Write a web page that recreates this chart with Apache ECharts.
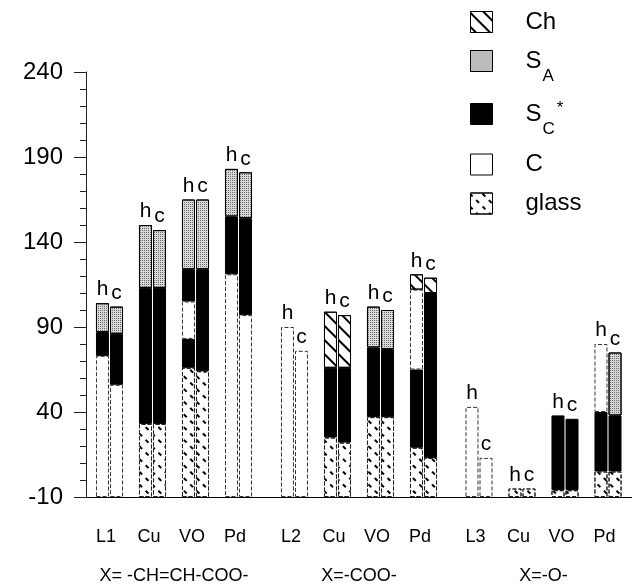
<!DOCTYPE html>
<html><head><meta charset="utf-8">
<script src="https://cdn.jsdelivr.net/npm/echarts@6/dist/echarts.min.js"></script>
<style>html,body{margin:0;padding:0;background:#fff}#c{width:632px;height:588px}</style>
</head><body><div id="c"></div>
<script>
// ---- data ----
const yTicks = [-10, 40, 90, 140, 190, 240];
const groupNames = ['X= -CH=CH-COO-', 'X=-COO-', 'X=-O-'];
const compounds1 = ['L1', 'Cu', 'VO', 'Pd'];
const compounds2 = ['L2', 'Cu', 'VO', 'Pd'];
const compounds3 = ['L3', 'Cu', 'VO', 'Pd'];
const phases = ['Ch', 'SA', 'SC*', 'C', 'glass'];
// each bar: phases from bottom with upper temperature of each
const heat1 = [
  [['C', 73], ['SC*', 87], ['SA', 104]],
  [['glass', 33], ['SC*', 113], ['SA', 150]],
  [['glass', 66], ['SC*', 83], ['C', 105], ['SC*', 124], ['SA', 165]],
  [['C', 121], ['SC*', 155], ['SA', 183]]
];
const cool1 = [
  [['C', 56], ['SC*', 86], ['SA', 102]],
  [['glass', 33], ['SC*', 113], ['SA', 147]],
  [['glass', 64], ['SC*', 124], ['SA', 165]],
  [['C', 97], ['SC*', 154], ['SA', 181]]
];
const heat2 = [
  [['C', 90]],
  [['glass', 25], ['SC*', 66], ['Ch', 99]],
  [['glass', 37], ['SC*', 78], ['SA', 102]],
  [['glass', 19], ['SC*', 65], ['C', 112], ['Ch', 121]]
];
const cool2 = [
  [['C', 76]],
  [['glass', 22], ['SC*', 66], ['Ch', 97]],
  [['glass', 37], ['SC*', 77], ['SA', 100]],
  [['glass', 13], ['SC*', 110], ['Ch', 119]]
];
const heat3 = [
  [['C', 43]],
  [['glass', -5]],
  [['glass', -6], ['SC*', 38]],
  [['glass', 5], ['SC*', 40], ['C', 80]]
];
const cool3 = [
  [['C', 13]],
  [['glass', -5]],
  [['glass', -6], ['SC*', 36]],
  [['glass', 5], ['SC*', 38], ['SA', 75]]
];

// ---- styles ----
const FONT = 'Liberation Sans, Arial, Helvetica, sans-serif';
const levels = ['glass', 'C', 'SC*', 'C', 'SC*', 'SA', 'Ch'];
const styles = {
  'glass': {color: '#ffffff', borderColor: '#222', borderWidth: 1, borderType: 'dashed',
    decal: {symbol: 'rect', symbolSize: 1, color: '#000', dashArrayX: [[4, 5]], dashArrayY: [1.3, 7], rotation: Math.PI / 4}},
  'C': {color: '#ffffff', borderColor: '#333', borderWidth: 1, borderType: 'dashed'},
  'SC*': {color: '#000000', borderColor: '#000', borderWidth: 1},
  'SA': {color: '#d8d8d8', borderColor: '#000', borderWidth: 1,
    decal: {symbol: 'rect', symbolSize: 1, color: '#6a6a6a', dashArrayX: [1, 1], dashArrayY: [1, 1]}},
  'Ch': {color: '#ffffff', borderColor: '#000', borderWidth: 1,
    decal: {symbol: 'rect', symbolSize: 1, color: '#000', dashArrayX: [1, 0], dashArrayY: [1.5, 8], rotation: Math.PI / 4}}
};

const groups = [
  {cats: compounds1, heat: heat1, cool: cool1, name: groupNames[0], left: 88},
  {cats: compounds2, heat: heat2, cool: cool2, name: groupNames[1], left: 273},
  {cats: compounds3, heat: heat3, cool: cool3, name: groupNames[2], left: 457.5}
];

function toLevels(bar) {
  const out = levels.map(() => 0);
  let prev = yTicks[0], p = 0;
  bar.forEach(([ph, top]) => {
    while (levels[p] !== ph) p++;
    out[p] = top - prev;
    prev = top; p++;
  });
  return out;
}

const grids = [{left: 86, right: 0, top: 72, bottom: 91, outerBoundsMode: 'none', containLabel: false}];
const xAxes = [{type: 'value', gridIndex: 0, min: 0, max: 1, axisLine: {show: true, onZero: false, lineStyle: {color: '#000', width: 1}},
  axisTick: {show: false}, axisLabel: {show: false}, splitLine: {show: false}}];
const yAxes = [{type: 'value', gridIndex: 0, min: yTicks[0], max: yTicks[yTicks.length - 1], interval: yTicks[1] - yTicks[0],
  axisLine: {show: true, onZero: false, lineStyle: {color: '#222', width: 1}},
  axisTick: {show: true, inside: false, length: 12, lineStyle: {color: '#222'}},
  minorTick: {show: true, splitNumber: 5, length: 6, lineStyle: {color: '#222'}},
  axisLabel: {fontSize: 24, color: '#000', fontFamily: FONT, margin: 23},
  splitLine: {show: false}, minorSplitLine: {show: false}}];
const series = [];

groups.forEach((g, gi) => {
  const idx = gi + 1;
  grids.push({left: g.left, width: 172, top: 72, bottom: 91, outerBoundsMode: 'none', containLabel: false});
  xAxes.push({type: 'category', gridIndex: idx, data: g.cats,
    axisLine: {show: false, onZero: false}, axisTick: {show: false},
    axisLabel: {fontSize: 18, color: '#000', fontFamily: FONT, margin: 31, padding: [0, 7, 0, 0]},
    name: g.name, nameLocation: 'middle', nameGap: 70,
    nameTextStyle: {fontSize: 18, color: '#000', fontFamily: FONT}});
  yAxes.push({type: 'value', gridIndex: idx, min: yTicks[0], max: yTicks[yTicks.length - 1], show: false});
  [['h', g.heat], ['c', g.cool]].forEach(([side, bars]) => {
    const stack = 'g' + gi + side;
    const common = {type: 'bar', xAxisIndex: idx, yAxisIndex: idx, stack: stack, stackStrategy: 'all',
      barWidth: 13, barGap: '8%', animation: false};
    series.push(Object.assign({}, common, {name: '_base', silent: true,
      data: bars.map(() => yTicks[0]), itemStyle: {color: 'rgba(0,0,0,0)', borderWidth: 0}}));
    const lv = bars.map(toLevels);
    levels.forEach((ph, li) => {
      series.push(Object.assign({}, common, {name: ph, itemStyle: styles[ph],
        data: lv.map(l => l[li] === 0 ? {value: 0, itemStyle: {borderWidth: 0}} : l[li])}));
    });
    series.push(Object.assign({}, common, {name: '_label', silent: true,
      data: bars.map(() => 0), itemStyle: {color: 'rgba(0,0,0,0)', borderWidth: 0},
      label: {show: true, position: 'top', formatter: side, fontSize: 21, color: '#000', fontFamily: FONT, distance: 3}}));
  });
});

const chart = echarts.init(document.getElementById('c'), null, {renderer: 'canvas'});
chart.setOption({
  backgroundColor: '#fff',
  animation: false,
  textStyle: {fontFamily: FONT},
  grid: grids, xAxis: xAxes, yAxis: yAxes, series: series,
  legend: {
    data: phases, orient: 'vertical', left: 465, top: 5, itemWidth: 22, itemHeight: 21, itemGap: 15,
    icon: 'rect', selectedMode: false,
    itemStyle: {borderColor: '#000', borderWidth: 1},
    textStyle: {fontSize: 24, color: '#000', fontFamily: FONT, padding: [0, 0, 0, 28],
      rich: {
        n: {fontSize: 24, color: '#000', fontFamily: FONT},
        sub: {fontSize: 17, color: '#000', fontFamily: FONT, padding: [30, 0, 0, 1]},
        sup: {fontSize: 17, color: '#000', fontFamily: FONT, padding: [0, 0, 12, 2]}
      }},
    formatter: function (name) {
      if (name === 'SA') return '{n|S}{sub|A}';
      if (name === 'SC*') return '{n|S}{sub|C}{sup|*}';
      return '{n|' + name + '}';
    }
  }
});
</script>
</body></html>
